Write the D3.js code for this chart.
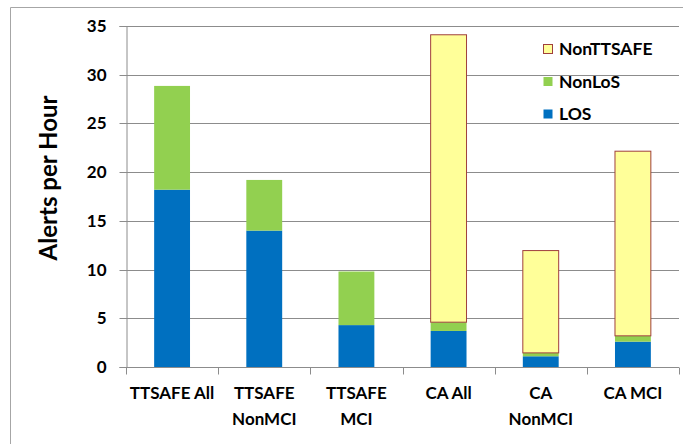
<!DOCTYPE html>
<html>
<head>
<meta charset="utf-8">
<script src="https://cdn.jsdelivr.net/npm/d3@7/dist/d3.min.js"></script>
<style>
  html, body { margin: 0; padding: 0; background: #fff; }
  svg { display: block; }
  text { font-family: Lato, "Open Sans", sans-serif; font-weight: bold; fill: #000; }
</style>
</head>
<body>
<svg id="chart" width="683" height="444"></svg>
<script>
// Alerts per hour, stacked by alert type
const categories = [["TTSAFE All"], ["TTSAFE", "NonMCI"], ["TTSAFE", "MCI"], ["CA All"], ["CA", "NonMCI"], ["CA MCI"]];
const seriesNames = ["LOS", "NonLoS", "NonTTSAFE"];
const losValues       = [18.2, 14.0, 4.3, 3.7, 1.1, 2.6];
const nonLosValues    = [10.65, 5.2, 5.5, 0.9, 0.35, 0.6];
const nonTtsafeValues = [0, 0, 0, 29.5, 10.5, 18.95];
const yTicks = [0, 5, 10, 15, 20, 25, 30, 35];

const colors = { LOS: "#0070C0", NonLoS: "#92D050", NonTTSAFE: "#FFFF99" };
const strokes = { LOS: "none", NonLoS: "none", NonTTSAFE: "#A0403C" };

const svg = d3.select("#chart");
const margin = { left: 126, right: 4, top: 26, bottom: 77 };
const W = 683, H = 444;

// outer frame
svg.append("path")
  .attr("d", `M10.5,${H} V7.5 H${W}`)
  .attr("fill", "none").attr("stroke", "#a6a6a6").attr("stroke-width", 1);

const keys = categories.map(c => c.join(" "));
const x = d3.scaleBand().domain(keys)
  .range([margin.left, W - margin.right]).paddingInner(0.6).paddingOuter(0.3);
const y = d3.scaleLinear().domain([0, 35]).range([H - margin.bottom, margin.top]);

// gridlines
svg.append("g").selectAll("line").data(yTicks.filter(d => d > 0)).join("line")
  .attr("x1", margin.left).attr("x2", W - margin.right)
  .attr("y1", d => Math.round(y(d)) + 0.5).attr("y2", d => Math.round(y(d)) + 0.5)
  .attr("stroke", "#8c8c8c").attr("stroke-width", 1);

// y axis
const yAxis = svg.append("g").attr("transform", `translate(${margin.left + 0.5},0)`)
  .call(d3.axisLeft(y).tickValues(yTicks).tickSize(7).tickPadding(13));
yAxis.select(".domain").attr("stroke", "#8c8c8c");
yAxis.selectAll(".tick line").attr("stroke", "#8c8c8c");
yAxis.selectAll(".tick").attr("transform", d => `translate(0,${Math.round(y(d)) + 0.5})`);
yAxis.selectAll("text").style("font-size", "17px").attr("fill", "#000");

// stacked bars
const rows = keys.map((k, i) => ({ key: k, LOS: losValues[i], NonLoS: nonLosValues[i], NonTTSAFE: nonTtsafeValues[i] }));
const stack = d3.stack().keys(seriesNames)(rows);
svg.append("g").selectAll("g").data(stack).join("g")
  .attr("fill", d => colors[d.key])
  .attr("stroke", d => strokes[d.key])
  .selectAll("rect").data(d => d.filter(p => p[1] - p[0] > 0)).join("rect")
  .attr("x", d => x(d.data.key) + 0.5)
  .attr("width", x.bandwidth() - 1)
  .attr("y", d => y(d[1]))
  .attr("height", d => y(d[0]) - y(d[1]));

// x axis line and category ticks
const y0 = Math.round(y(0)) + 0.5;
svg.append("line").attr("x1", margin.left).attr("x2", W - margin.right)
  .attr("y1", y0).attr("y2", y0).attr("stroke", "#8c8c8c");
const step = x.step();
const bounds = d3.range(keys.length + 1).map(i => x.range()[0] + i * step);
svg.append("g").selectAll("line").data(bounds).join("line")
  .attr("x1", d => Math.round(d) + 0.5).attr("x2", d => Math.round(d) + 0.5)
  .attr("y1", y0).attr("y2", y0 + 7).attr("stroke", "#8c8c8c");

// category labels
const lab = svg.append("g").selectAll("text").data(categories).join("text")
  .attr("text-anchor", "middle")
  .attr("x", (d, i) => x(keys[i]) + x.bandwidth() / 2)
  .attr("y", 399)
  .style("font-size", "17px");
lab.selectAll("tspan").data(d => d).join("tspan")
  .attr("x", function () { return this.parentNode.getAttribute("x"); })
  .attr("dy", (d, i) => i === 0 ? 0 : 25.5)
  .text(d => d);

// y axis title
svg.append("text")
  .attr("transform", "translate(57,178) rotate(-90)")
  .attr("text-anchor", "middle")
  .style("font-size", "24px")
  .text("Alerts per Hour");

// legend
const legendItems = ["NonTTSAFE", "NonLoS", "LOS"];
const lg = svg.append("g").selectAll("g").data(legendItems).join("g")
  .attr("transform", (d, i) => `translate(543,${49 + i * 32.5})`);
lg.append("rect").attr("x", 0.5).attr("y", -4.5).attr("width", 9).attr("height", 9)
  .attr("fill", d => colors[d]).attr("stroke", d => strokes[d]);
lg.append("text").attr("x", 16).attr("y", 6).style("font-size", "17.5px").text(d => d);
</script>
</body>
</html>
